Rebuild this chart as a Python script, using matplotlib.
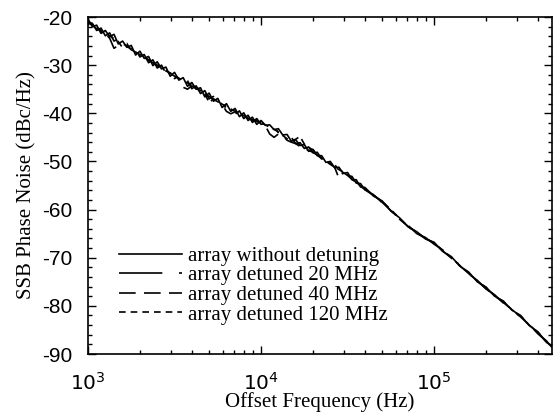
import matplotlib
matplotlib.use('Agg')
import matplotlib.pyplot as plt
from matplotlib.ticker import LogLocator, MultipleLocator, NullFormatter, FixedLocator

plt.rcParams['mathtext.fontset'] = 'custom'
plt.rcParams['mathtext.rm'] = 'Liberation Sans'
plt.rcParams['axes.unicode_minus'] = False

# ---- data (offset frequency in Hz, SSB phase noise in dBc/Hz) ----
freq = [1000, 1059, 1122, 1189, 1259, 1334, 1413, 1496, 1585, 1679,
        1778, 1884, 1995, 2113, 2239, 2371, 2512, 2661, 2818, 2985,
        3162, 3350, 3548, 3758, 3981, 4217, 4467, 4732, 5012, 5309,
        5623, 5957, 6310, 6683, 7079, 7499, 7943, 8414, 8913, 9441,
        10000, 10590, 11220, 11890, 12590, 13340, 14130, 14960, 15850, 16790,
        17780, 18840, 19950, 21130, 22390, 23710, 25120, 26610, 28180, 29850,
        31620, 33500, 35480, 37580, 39810,
        44670, 50120, 56230, 63100, 70790, 79430, 89130, 100000, 112200, 125900,
        141300, 158500, 177800, 199500, 223900, 251200, 281800, 316200, 354800, 398100,
        446700, 478600]

no_detune = [-20.4, -22.0, -21.7, -23.4, -22.8, -24.1, -23.6, -25.6, -25.0, -26.3,
             -25.9, -27.9, -27.1, -28.6, -28.2, -30.1, -29.3, -30.8, -30.4, -32.3,
             -31.5, -33.1, -32.6, -34.4, -33.6, -35.0, -34.7, -36.6, -35.8, -37.5,
             -36.9, -38.8, -38.0, -39.6, -39.0, -40.7, -39.9, -41.5, -40.8, -42.3,
             -41.5, -42.5, -42.4, -43.4, -43.2, -44.5, -44.4, -45.8, -45.5, -46.7,
             -46.5, -47.9, -47.5, -48.8, -48.8, -50.2, -50.0, -51.3, -51.2, -52.5,
             -52.3, -53.8, -53.8, -55.3, -55.4,
             -57.2, -58.2, -60.3, -61.7, -63.6, -64.6, -66.1, -66.8, -68.7, -69.8,
             -71.8, -73.0, -75.0, -76.1, -78.0, -79.0, -80.9, -82.0, -84.1, -85.4,
             -87.6, -88.3]

detune_20 = [-21.1, -21.3, -22.8, -22.3, -23.9, -23.3, -25.0, -24.5, -26.1, -25.5,
             -27.2, -26.7, -28.3, -27.8, -29.5, -28.9, -30.6, -30.0, -31.7, -31.1,
             -32.8, -32.2, -33.8, -33.2, -34.9, -34.3, -35.9, -35.3, -37.0, -36.5,
             -38.1, -37.6, -39.2, -38.6, -40.2, -39.5, -41.1, -40.4, -41.9, -41.1,
             -42.3, -42.0, -43.0, -42.9, -44.0, -43.9, -45.2, -45.0, -46.3, -46.1,
             -47.3, -47.0, -48.2, -48.1, -49.5, -49.4, -50.7, -50.6, -51.9, -51.7,
             -53.0, -53.1, -54.5, -54.6, -55.9,
             -56.9, -58.6, -60.0, -62.1, -63.3, -65.0, -65.8, -67.2, -68.4, -70.2,
             -71.5, -73.4, -74.7, -76.5, -77.7, -79.4, -80.6, -82.4, -83.8, -85.8,
             -87.3, -88.6]

detune_40 = [-20.8, -21.8, -22.4, -22.9, -23.5, -24.4, -26.5, -25.9, -25.6, -26.0,
             -26.8, -27.3, -27.9, -28.3, -29.0, -29.5, -30.1, -30.6, -31.1, -31.7,
             -32.3, -32.8, -34.6, -35.0, -34.3, -34.9, -35.4, -36.0, -36.5, -37.1,
             -37.6, -38.2, -39.6, -40.1, -39.7, -40.1, -40.6, -41.0, -41.4, -41.7,
             -42.0, -42.6, -44.3, -45.0, -44.3, -44.6, -45.6, -46.0, -46.3, -46.9,
             -47.4, -47.7, -48.1, -48.7, -49.4, -50.0, -50.6, -51.2, -53.5, -52.3,
             -52.9, -53.7, -54.4, -55.2, -55.8,
             -57.1, -58.5, -60.2, -62.0, -63.5, -64.9, -66.0, -67.0, -68.6, -70.1,
             -71.7, -73.3, -74.9, -76.4, -77.9, -79.3, -80.8, -82.3, -84.0, -85.7,
             -87.5, -88.4]

detune_120 = [-21.3, -21.6, -22.3, -22.8, -23.6, -23.9, -24.5, -25.1, -26.4, -26.1,
              -26.6, -27.3, -27.8, -28.4, -28.9, -29.4, -30.0, -30.5, -31.2, -31.6,
              -32.2, -32.7, -33.3, -33.7, -34.2, -34.8, -35.3, -35.9, -37.8, -37.0,
              -37.5, -38.1, -38.6, -39.1, -39.6, -40.0, -40.5, -40.9, -41.3, -41.6,
              -42.0, -42.4, -42.9, -43.3, -43.9, -44.6, -45.3, -45.7, -45.4, -44.8,
              -46.4, -47.1, -47.6, -48.6, -49.3, -49.9, -50.5, -51.1, -51.7, -52.2,
              -52.8, -53.6, -54.3, -55.1, -55.7,
              -57.0, -58.3, -60.0, -61.8, -63.5, -64.7, -66.0, -66.9, -68.5, -69.9,
              -71.7, -73.1, -74.9, -76.2, -77.9, -79.1, -80.8, -82.1, -84.0, -85.5,
              -87.5, -88.4]

labels = ['array without detuning', 'array detuned 20 MHz',
          'array detuned 40 MHz', 'array detuned 120 MHz']
yticks = [-90, -80, -70, -60, -50, -40, -30, -20]

fig = plt.figure(figsize=(5.53, 4.13), dpi=100)
ax = fig.add_axes([88/553, 1 - 354/413, 464/553, 337/413])

styles = ['-', (0, (26, 10, 2, 10)), (0, (10, 5)), (0, (4, 3))]
for ys, st, lab in zip([no_detune, detune_20, detune_40, detune_120], styles, labels):
    ax.plot(freq, ys, color='black', lw=1.2, ls=st, label=lab)

ax.set_xscale('log')
ax.set_xlim(1e3, 4.8e5)
ax.set_ylim(-90, -20)
ax.yaxis.set_major_locator(FixedLocator(yticks))
ax.yaxis.set_minor_locator(MultipleLocator(2))
ax.xaxis.set_major_locator(LogLocator(base=10))
ax.xaxis.set_minor_locator(LogLocator(base=10, subs=range(2, 10)))
ax.xaxis.set_minor_formatter(NullFormatter())

ax.tick_params(which='both', direction='in', top=True, right=True, width=1.0)
ax.tick_params(which='major', length=6)
ax.tick_params(which='minor', length=3)
ax.tick_params(axis='y', labelsize=15, pad=11)
ax.tick_params(axis='x', labelsize=14.5, pad=13)
for lab in ax.get_yticklabels():
    lab.set_family('Liberation Sans')
for sp in ax.spines.values():
    sp.set_linewidth(1.2)

ax.set_xlabel('Offset Frequency (Hz)', family='Liberation Serif', fontsize=15, labelpad=-1)
ax.set_ylabel('SSB Phase Noise (dBc/Hz)', family='Liberation Serif', fontsize=15, labelpad=4)

leg = ax.legend(loc='lower left', bbox_to_anchor=(0.04, 0.05), frameon=False,
                handlelength=3.0, handletextpad=0.3, labelspacing=0.0,
                borderaxespad=0.2, prop={'family': 'Liberation Serif', 'size': 15})

fig.savefig('out.png', dpi=100)
